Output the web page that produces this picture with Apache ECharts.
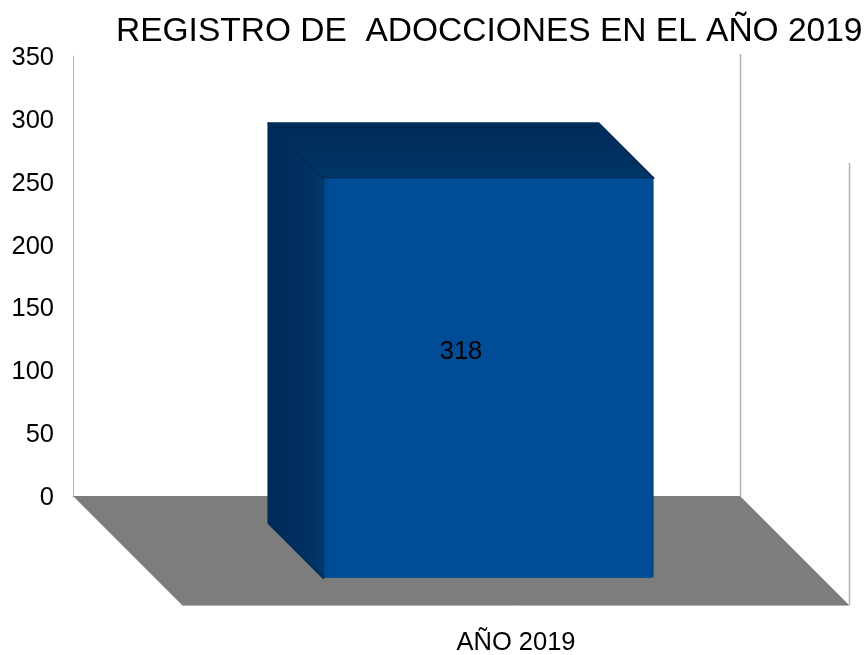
<!DOCTYPE html>
<html>
<head>
<meta charset="utf-8">
<title>Registro de adopciones</title>
<script src="https://cdn.jsdelivr.net/npm/echarts@6/dist/echarts.min.js"></script>
<style>
html, body { margin: 0; padding: 0; background: #fff; }
#chart { width: 865px; height: 655px; }
</style>
</head>
<body>
<div id="chart"></div>
<script>
const titleText = 'REGISTRO DE  ADOCCIONES EN EL AÑO 2019'
const categories = ['AÑO 2019']
const values = [318]
const yMax = 350
const yStep = 50

// fake 3d: how far things are pushed towards the viewer, in px
const floorDepth = 109
const barBack = 27
const barFront = 82
const barShare = 0.495

const font = '"Liberation Sans", Arial, sans-serif'
const wallColor = '#b3b3b3'

const chart = echarts.init(document.getElementById('chart'), null, { renderer: 'canvas' })

function renderFloor(params, api) {
    const c = params.coordSys
    const left = c.x
    const right = c.x + c.width
    const top = c.y
    const base = c.y + c.height
    return {
        type: 'group',
        children: [
            {
                type: 'polygon',
                shape: { points: [[left, base], [right, base], [right + floorDepth, base + floorDepth], [left + floorDepth, base + floorDepth]] },
                style: { fill: '#7d7d7d', stroke: null },
            },
            {
                type: 'line',
                shape: { x1: right + 0.5, y1: top - 2, x2: right + 0.5, y2: base },
                style: { stroke: wallColor, lineWidth: 1.5 },
            },
            {
                type: 'line',
                shape: { x1: right + floorDepth + 0.5, y1: top - 2 + floorDepth, x2: right + floorDepth + 0.5, y2: base + floorDepth },
                style: { stroke: wallColor, lineWidth: 1.5 },
            },
            {
                type: 'line',
                shape: { x1: left + floorDepth, y1: base + floorDepth + 0.5, x2: right + floorDepth, y2: base + floorDepth + 0.5 },
                style: { stroke: wallColor, lineWidth: 1 },
            },
        ],
    }
}

function renderBar(params, api) {
    const zero = api.coord([api.value(0), 0])
    const topPt = api.coord([api.value(0), api.value(1)])
    const w = api.size([1, 0])[0] * barShare
    const h = zero[1] - topPt[1]

    const backX = zero[0] - w / 2 + barBack
    const backTop = topPt[1] + barBack
    const backBase = zero[1] + barBack
    const frontX = zero[0] - w / 2 + barFront
    const frontTop = topPt[1] + barFront

    return {
        type: 'group',
        children: [
            {
                type: 'polygon',
                shape: { points: [[backX, backTop], [frontX, frontTop], [frontX, frontTop + h], [backX, backBase]] },
                style: {
                    fill: new echarts.graphic.LinearGradient(0, 0, 1, 0, [
                        { offset: 0, color: '#002a57' },
                        { offset: 0.5, color: '#002f60' },
                        { offset: 0.8, color: '#003264' },
                        { offset: 1, color: '#003b74' },
                    ]),
                    stroke: '#002c5a',
                    lineWidth: 2,
                    lineJoin: 'round',
                },
            },
            {
                type: 'polygon',
                shape: { points: [[backX, backTop], [backX + w, backTop], [frontX + w, frontTop], [frontX, frontTop]] },
                style: {
                    fill: new echarts.graphic.LinearGradient(0, 0, 0, 1, [
                        { offset: 0, color: '#002a58' },
                        { offset: 1, color: '#003667' },
                    ]),
                    stroke: '#002c5a',
                    lineWidth: 2,
                    lineJoin: 'round',
                },
            },
            {
                type: 'rect',
                shape: { x: frontX, y: frontTop, width: w, height: h, r: 3 },
                style: {
                    fill: new echarts.graphic.LinearGradient(0, 0, 1, 0, [
                        { offset: 0, color: '#004684' },
                        { offset: 0.02, color: '#004c96' },
                        { offset: 0.99, color: '#004c96' },
                        { offset: 1, color: '#004482' },
                    ]),
                },
            },
            {
                type: 'text',
                x: (backX + frontX + w) / 2,
                y: (backTop + frontTop + h) / 2 + 1,
                style: {
                    text: String(api.value(1)),
                    font: '25.5px ' + font,
                    fill: '#000',
                    align: 'center',
                    verticalAlign: 'middle',
                },
            },
        ],
    }
}

chart.setOption({
    animation: false,
    backgroundColor: '#fff',
    title: {
        text: titleText,
        left: 116,
        top: 15,
        padding: 0,
        textStyle: { fontFamily: font, fontSize: 33.5, fontWeight: 'normal', color: '#000' },
    },
    grid: { left: 73, right: 125, top: 56, bottom: 159, containLabel: false, outerBoundsMode: 'none' },
    xAxis: {
        type: 'category',
        data: categories,
        axisLine: { show: true, lineStyle: { color: wallColor, width: 1 } },
        axisTick: { show: false },
        axisLabel: {
            margin: 134,
            fontFamily: font,
            fontSize: 25.5,
            color: '#000',
            padding: [0, 0, 0, 219],
        },
    },
    yAxis: {
        type: 'value',
        min: 0,
        max: yMax,
        interval: yStep,
        axisLine: { show: true, lineStyle: { color: wallColor, width: 1 } },
        axisTick: { show: false },
        splitLine: { show: false },
        axisLabel: { margin: 19, fontFamily: font, fontSize: 25.5, color: '#000', verticalAlign: 'top', lineHeight: 4 },
    },
    series: [
        {
            type: 'custom',
            renderItem: renderFloor,
            data: [[0]],
            silent: true,
            z: 1,
        },
        {
            type: 'custom',
            renderItem: renderBar,
            encode: { x: 0, y: 1 },
            data: categories.map((c, i) => [i, values[i]]),
            z: 2,
        },
    ],
})
</script>
</body>
</html>
